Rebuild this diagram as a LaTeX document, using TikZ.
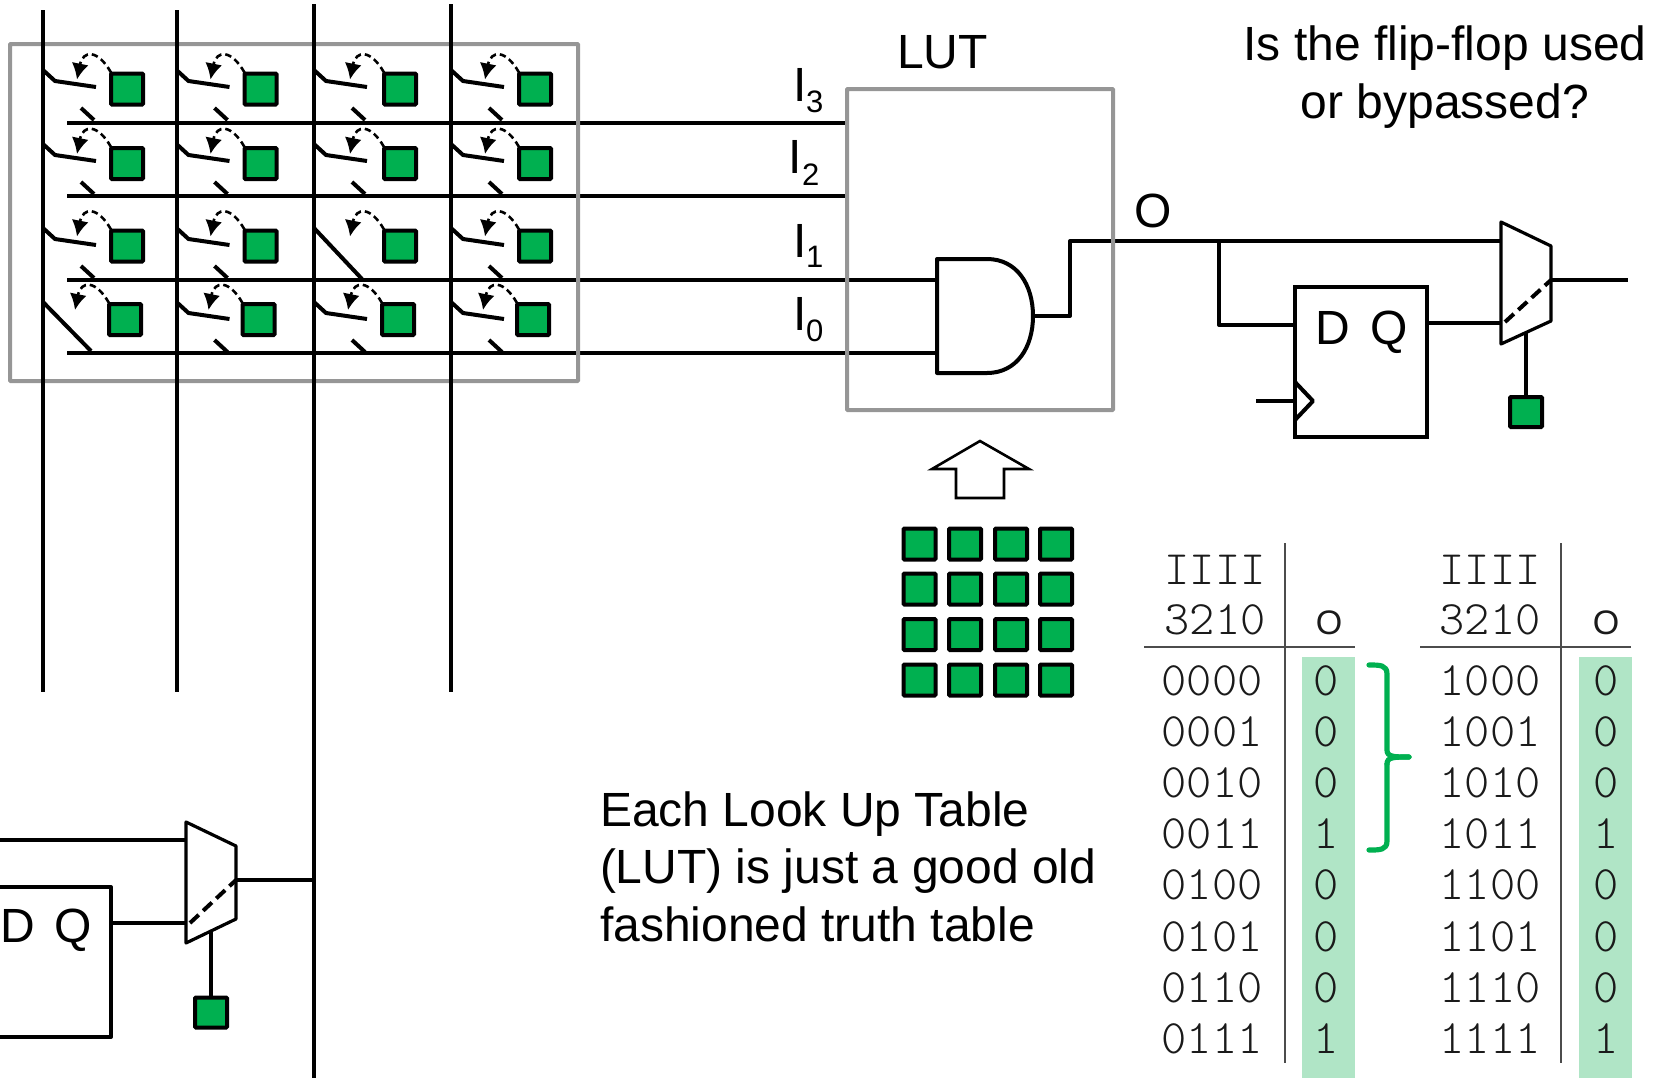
\documentclass[tikz,border=0pt]{standalone}
\usepackage{fontspec}
\setmainfont{Liberation Sans}
\newfontfamily\tblfont{Latin Modern Mono Light}
\usetikzlibrary{arrows.meta,calc}
\definecolor{cfggreen}{HTML}{00B050}
\definecolor{hilite}{HTML}{B0E5C6}
\definecolor{boxgray}{HTML}{969696}
\definecolor{tblink}{HTML}{1A1A1A}
\tikzset{
  wire/.style={line width=2pt,line cap=butt,line join=round},
  thinwire/.style={line width=1.6pt,line join=round},
  graybox/.style={draw=boxgray,line width=2pt,rounded corners=0.3pt,inner sep=0pt,outer sep=0pt},
  cfg/.style={draw=black,fill=cfggreen,line width=2pt,rounded corners=0.5pt,minimum width=16pt,minimum height=15.5pt,inner sep=0pt,outer sep=0pt},
  cfgarrow/.style={line width=1.3pt,dash pattern=on 3.2pt off 2pt,-{Latex[length=8pt,width=8.5pt]}},
  ffbox/.style={draw=black,line width=2pt,inner sep=0pt,outer sep=0pt},
  big/.style={font=\fontsize{24}{28}\selectfont,inner sep=0pt,outer sep=0pt},
  sub/.style={font=\fontsize{15.5}{18}\selectfont,inner sep=0pt,outer sep=0pt},
  tbl/.style={font=\fontsize{24}{28}\tblfont,text=tblink,inner sep=0pt,outer sep=0pt,anchor=base},
  tblo/.style={font=\fontsize{17}{20}\selectfont,text=tblink,inner sep=0pt,outer sep=0pt,anchor=base},
  tblline/.style={draw=black!70,line width=1pt},
  selwire/.style={line width=2pt,dash pattern=on 6pt off 3pt},
  bracket/.style={draw=cfggreen,line width=2.6pt,line cap=round,line join=round},
}
\begin{document}
\begin{tikzpicture}[x=0.5pt,y=-0.5pt]
\useasboundingbox (0,0) rectangle (1662,1078);
% highlights
\fill[hilite] (1302,657) rectangle (1355,1078);
\fill[hilite] (1579,657) rectangle (1632,1078);
% horizontal routing wires
\foreach \n/\y in {0/123,1/196,2/280,3/353}{
  \coordinate (hw\n) at (67,\y);
  \coordinate (he\n) at (847,\y);
  \draw[wire] (hw\n) -- (he\n);
}
% gray routing box
\node[graybox,minimum width=284pt,minimum height=168.5pt,anchor=north west] (routing) at (10,44) {};
% vertical routing wires
\foreach \n/\x/\t/\b in {0/43/10/692,1/176.5/10/692,2/314/4/1078,3/451/4/692}{
  \coordinate (vt\n) at (\x,\t);
  \coordinate (vb\n) at (\x,\b);
  \draw[wire] (vt\n) -- (vb\n);
}
% configurable switch cells
\foreach \r/\ys/\ysw/\yst/\dx in {0/89/70/108/0,1/163.5/144/182/0,2/246/228/266/0,3/319.5/302/340/-2}{
  \foreach \c/\xs/\xv in {0/127/43,1/260.5/176.5,2/400/314,3/535/451}{
    \node[cfg] (cell\r\c) at (\xs+\dx,\ys) {};
    \coordinate (dstart) at ($(cell\r\c.north west)+(0,-1)$);
    \coordinate (dctla) at ($(cell\r\c.north west)+(-13,-24)$);
    \coordinate (dctlb) at ($(cell\r\c.north west)+(-28,-24)$);
    \coordinate (dtip) at ($(cell\r\c.north west)+(-34,6)$);
    \draw[cfgarrow] (dstart) .. controls (dctla) and (dctlb) .. (dtip);
    \coordinate (sw\r\c) at (\xv,\ysw);
    \coordinate (st\r\c) at (\xv+38,\yst);
    \pgfmathtruncatemacro{\closedcell}{(\r==3 && \c==0) || (\r==2 && \c==2) ? 1 : 0}
    \ifnum\closedcell=1
      \draw[wire] (sw\r\c) -- ++(48,\ifnum\r=3 49\else 51\fi);
    \else
      \draw[wire] (sw\r\c) -- ++(12,11) -- ++(41,6);
      \draw[wire] (st\r\c) -- ++(13,12);
    \fi
  }
}
% LUT
\coordinate (andnw) at (937,259);
\coordinate (andsw) at (937,373);
\coordinate (andout) at (1033,316);
\coordinate (andina) at (937,280);
\coordinate (andinb) at (937,353);
\draw[wire] (he2) -- (andina);
\draw[wire] (he3) -- (andinb);
\draw[wire] (andnw) -- (987,259) .. controls (1017,259) and (1033,285) .. (andout)
  .. controls (1033,347) and (1017,373) .. (987,373) -- (andsw) -- cycle;
\coordinate (outbend) at (1070,316);
\coordinate (outtop) at (1070,241);
\coordinate (muxain) at (1501,241);
\draw[wire] (andout) -- (outbend) -- (outtop) -- (muxain);
\node[graybox,minimum width=133pt,minimum height=160.5pt,anchor=north west] (lut) at (847,89) {};
\node[big,anchor=base west] (lutlabel) at (897,68) {LUT};
\node[big,anchor=base west] (i3) at (793,101) {I};
\node[sub,anchor=base west] (i3s) at (806,112) {3};
\node[big,anchor=base west] (i2) at (788,173) {I};
\node[sub,anchor=base west] (i2s) at (802,185) {2};
\node[big,anchor=base west] (i1) at (793,257) {I};
\node[sub,anchor=base west] (i1s) at (806,267) {1};
\node[big,anchor=base west] (i0) at (793,330) {I};
\node[sub,anchor=base west] (i0s) at (806,341) {0};
\node[big,anchor=base] (olabel) at (1153,227) {O};
% flip-flop and mux, right
\node[ffbox,minimum width=66pt,minimum height=75pt,anchor=north west] (ff) at (1295,287) {};
\node[big,anchor=base] (ffd) at (1333,344) {D};
\node[big,anchor=base] (ffq) at (1389,344) {Q};
\coordinate (branch) at (1219,241);
\coordinate (branchb) at (1219,325);
\coordinate (ffdin) at (1295,325);
\draw[wire] (branch) -- (branchb) -- (ffdin);
\coordinate (clkin) at (1256,401);
\coordinate (clkff) at (1295,401);
\draw[wire] (clkin) -- (clkff);
\draw[wire] (1295,382) -- (1313,401) -- (1295,420);
\coordinate (ffqout) at (1427,323);
\coordinate (muxbin) at (1501,323);
\draw[wire] (ffqout) -- (muxbin);
\coordinate (muxnw) at (1501,222);
\coordinate (muxsw) at (1501,344);
\coordinate (muxout) at (1551,280);
\draw[thinwire] (muxnw) -- (1551,246) -- (1551,321) -- (muxsw) -- cycle;
\draw[selwire] (1505,322) -- (muxout);
\coordinate (muxoutr) at (1628,280);
\draw[wire] (muxout) -- (muxoutr);
\node[cfg,minimum width=16pt,minimum height=15pt] (selr) at (1526,412) {};
\coordinate (muxsel) at (1526,333);
\draw[wire] (muxsel) -- (selr.north);
% flip-flop and mux, lower left
\coordinate (ffleftt) at (0,887);
\coordinate (ffrightt) at (111,887);
\coordinate (ffrightb) at (111,1037);
\coordinate (ffleftb) at (0,1037);
\draw[wire] (ffleftt) -- (ffrightt) -- (ffrightb) -- (ffleftb);
\node[big,anchor=base] (ffd2) at (18,942) {D};
\node[big,anchor=base] (ffq2) at (73,942) {Q};
\coordinate (lbin) at (0,840);
\coordinate (lmuxa) at (186,840);
\draw[wire] (lbin) -- (lmuxa);
\coordinate (lmuxb) at (186,923);
\draw[wire] (ffrightt |- lmuxb) -- (lmuxb);
\coordinate (lmuxnw) at (186,822);
\coordinate (lmuxsw) at (186,943);
\coordinate (lmuxout) at (236,880);
\draw[thinwire] (lmuxnw) -- (236,846) -- (236,919) -- (lmuxsw) -- cycle;
\draw[selwire] (190,923) -- (lmuxout);
\draw[wire] (lmuxout) -- (vt2 |- lmuxout);
\node[cfg,minimum width=16pt,minimum height=15pt] (sell) at (211,1012.5) {};
\coordinate (lmuxsel) at (211,931);
\draw[wire] (lmuxsel) -- (sell.north);
% hollow arrow
\draw[line width=1.3pt,line join=miter] (980,441) -- (1029,469) -- (1004,469) -- (1004,498) -- (956,498) -- (956,469) -- (932,469) -- cycle;
% config memory
\foreach \r/\y in {0/544,1/589,2/634.5,3/680}{
  \foreach \c/\x in {0/919.5,1/965,2/1011,3/1056}{
    \node[cfg] (mem\r\c) at (\x,\y) {};
  }
}
% truth tables
\foreach \lx/\hx/\vx/\lstart/\lend/\ox/\dx/\pre in {1215/1212/1285/1144/1355/1329/1326/0,1490/1490/1561/1420/1631/1606/1606/1}{
  \draw[tblline] (\vx,543) -- (\vx,1063);
  \draw[tblline] (\lstart,647) -- (\lend,647);
  \node[tbl] at (\lx,584) {IIII};
  \node[tbl] at (\lx,634) {3210};
  \node[tblo] at (\ox,634) {O};
  \foreach \bits/\res/\y in {000/0/695,001/0/746,010/0/797.5,011/1/848.6,100/0/899.7,101/0/951,110/0/1002,111/1/1053}{
    \node[tbl] at (\hx,\y) {\pre\bits};
    \node[tbl] at (\dx,\y) {\res};
  }
}
% bracket
\coordinate (brtop) at (1369,665);
\coordinate (brbot) at (1369,850);
\coordinate (brnib) at (1409,757);
\draw[bracket] (brtop) .. controls (1380,665) and (1387,665) .. (1387,674) -- (1387,750) .. controls (1387,757) and (1394,757) .. (brnib);
\draw[bracket] (1387,764) .. controls (1387,757) and (1394,757) .. (brnib);
\draw[bracket] (1387,764) -- (1387,841) .. controls (1387,850) and (1380,850) .. (brbot);
% texts
\node[big,anchor=base] (q1) at (1445,60) {Is the flip-flop used};
\node[big,anchor=base] (q2) at (1445,118) {or bypassed?};
\node[big,anchor=base west] (p1) at (600,826) {Each Look Up Table};
\node[big,anchor=base west] (p2) at (600,883) {(LUT) is just a good old};
\node[big,anchor=base west] (p3) at (600,941) {fashioned truth table};
\end{tikzpicture}
\end{document}
